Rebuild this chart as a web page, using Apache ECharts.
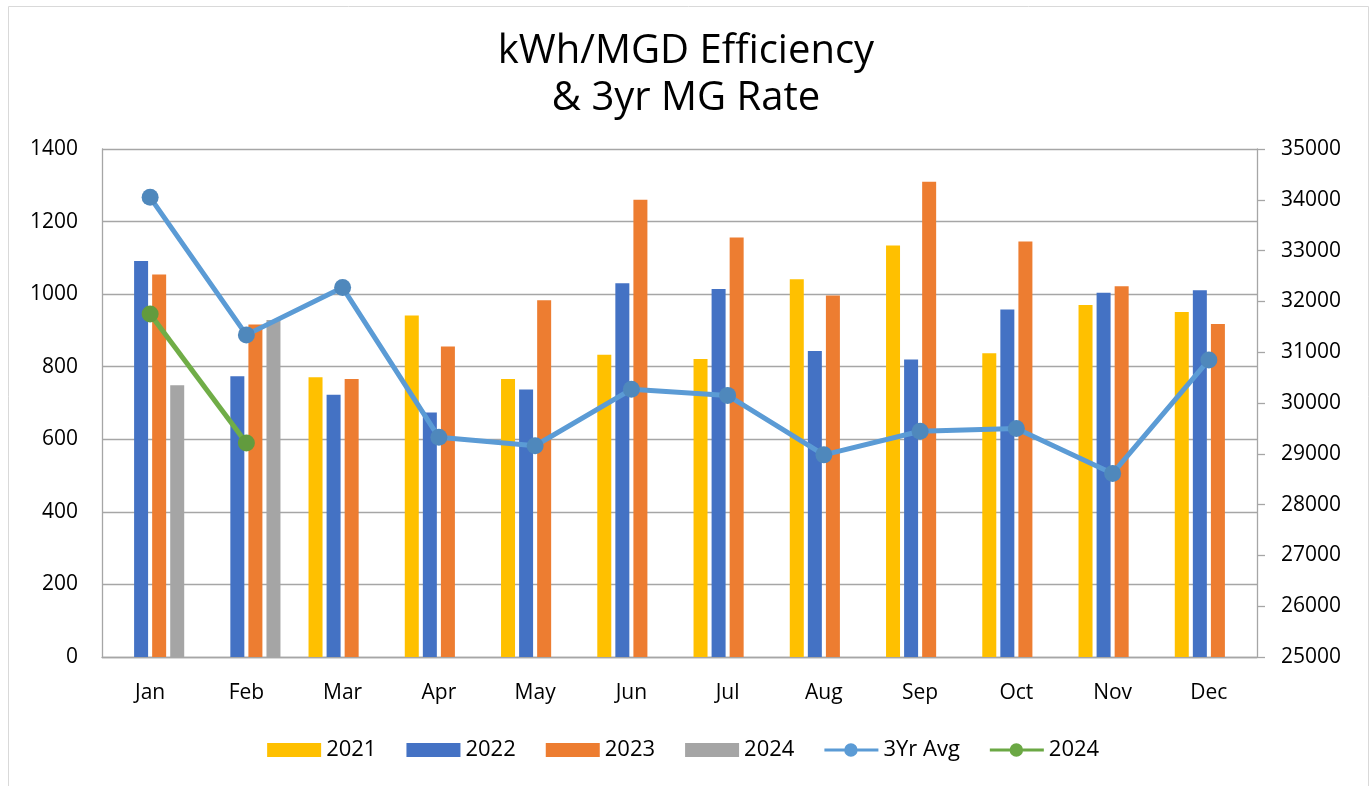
<!DOCTYPE html>
<html>
<head>
<meta charset="utf-8">
<script src="https://cdn.jsdelivr.net/npm/echarts@6/dist/echarts.min.js"></script>
<style>
html,body{margin:0;padding:0;background:#fff;}
#c{width:1372px;height:786px;}
</style>
</head>
<body>
<div id="c"></div>
<script>
const months = ['Jan','Feb','Mar','Apr','May','Jun','Jul','Aug','Sep','Oct','Nov','Dec'];
const bars2021 = [null, null, 771, 941, 766, 833, 821, 1041, 1134, 837, 970, 951];
const bars2022 = [1091, 774, 723, 674, 737, 1030, 1014, 843, 820, 958, 1004, 1011];
const bars2023 = [1054, 916, 766, 856, 983, 1260, 1156, 996, 1310, 1145, 1022, 918];
const bars2024 = [749, 929, null, null, null, null, null, null, null, null, null, null];
const avg3yr = [34049, 31341, 32272, 29325, 29158, 30270, 30150, 28979, 29444, 29498, 28613, 30848];
const line2024 = [31753, 29212, null, null, null, null, null, null, null, null, null, null];
const leftTicks = [0, 200, 400, 600, 800, 1000, 1200, 1400];
const rightTicks = [25000, 26000, 27000, 28000, 29000, 30000, 31000, 32000, 33000, 34000, 35000];

const FONT = 'Open Sans';
const lineIcon = 'path://M0,5.5L21,5.5L21,8.5L0,8.5Z M34,5.5L56,5.5L56,8.5L34,8.5Z M20.5,7A7,7 0 1,1 34.5,7A7,7 0 1,1 20.5,7Z';
const chart = echarts.init(document.getElementById('c'));
const barCommon = {type: 'bar', yAxisIndex: 0, barWidth: 14, barGap: '29%'};
chart.setOption({
  animation: false,
  textStyle: {fontFamily: FONT},
  title: {
    text: 'kWh/MGD Efficiency\n& 3yr MG Rate',
    left: 'center', top: 23,
    textStyle: {fontFamily: FONT, fontSize: 40, fontWeight: 'normal', color: '#000', lineHeight: 47}
  },
  graphic: [{
    type: 'rect', left: 6, top: 4, silent: true,
    shape: {width: 1360, height: 800},
    style: {fill: 'none', stroke: '#D9D9D9', lineWidth: 1}
  }],
  legend: {
    bottom: 20, left: 'center',
    itemWidth: 54, itemHeight: 14, itemGap: 30,
    textStyle: {fontFamily: FONT, fontSize: 22, color: '#000'},
    data: [
      {name: '2021', icon: 'rect'},
      {name: '2022', icon: 'rect'},
      {name: '2023', icon: 'rect'},
      {name: '2024', icon: 'rect'},
      {name: '3Yr Avg', icon: lineIcon, itemStyle: {color: '#5B9BD5'}},
      {name: '2024 ', icon: lineIcon, itemStyle: {color: '#6BA844'}}
    ]
  },
  grid: {left: 102, right: 115, top: 149, bottom: 129, containLabel: false},
  xAxis: {
    type: 'category', data: months,
    axisLine: {lineStyle: {color: '#A6A6A6', width: 1.3}},
    axisTick: {show: false},
    axisLabel: {fontFamily: FONT, fontSize: 21, color: '#000', margin: 26}
  },
  yAxis: [{
    type: 'value', min: leftTicks[0], max: leftTicks[leftTicks.length - 1], interval: 200,
    axisLine: {show: true, lineStyle: {color: '#A6A6A6', width: 1.3}},
    axisTick: {show: false},
    splitLine: {lineStyle: {color: '#A6A6A6', width: 1.3}},
    axisLabel: {fontFamily: FONT, fontSize: 21, color: '#000', margin: 24, formatter: v => String(v)}
  }, {
    type: 'value', min: rightTicks[0], max: rightTicks[rightTicks.length - 1], interval: 1000,
    position: 'right',
    axisLine: {show: true, lineStyle: {color: '#A6A6A6', width: 1.3}},
    axisTick: {show: true, length: 8, lineStyle: {color: '#A6A6A6', width: 1.3}},
    splitLine: {show: false},
    axisLabel: {fontFamily: FONT, fontSize: 21, color: '#000', margin: 24, formatter: v => String(v)}
  }],
  series: [
    Object.assign({name: '2021', data: bars2021, itemStyle: {color: '#FFC000'}}, barCommon),
    Object.assign({name: '2022', data: bars2022, itemStyle: {color: '#4472C4'}}, barCommon),
    Object.assign({name: '2023', data: bars2023, itemStyle: {color: '#ED7D31'}}, barCommon),
    Object.assign({name: '2024', data: bars2024, itemStyle: {color: '#A5A5A5'}}, barCommon),
    {
      name: '3Yr Avg', type: 'line', yAxisIndex: 1, data: avg3yr, z: 5,
      symbol: 'circle', symbolSize: 17,
      lineStyle: {color: '#5B9BD5', width: 5},
      itemStyle: {color: '#4F88BC'}
    },
    {
      name: '2024 ', type: 'line', yAxisIndex: 1, data: line2024, z: 6,
      symbol: 'circle', symbolSize: 17,
      lineStyle: {color: '#70AD47', width: 5},
      itemStyle: {color: '#629B3E'}
    }
  ]
});
</script>
</body>
</html>
